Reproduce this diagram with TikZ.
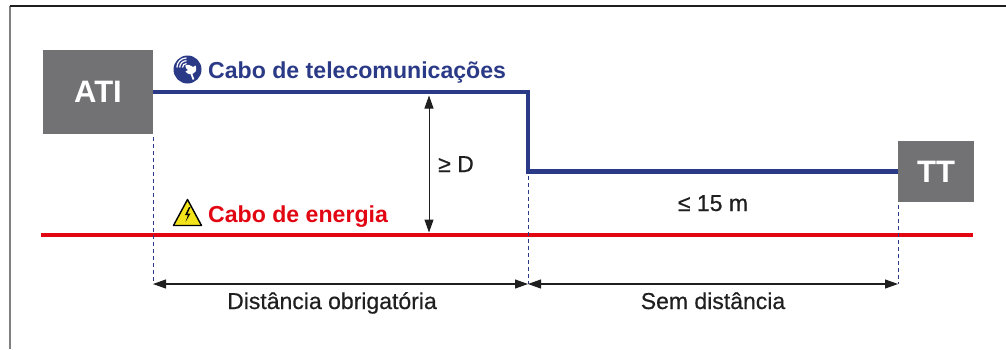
\documentclass[tikz,border=0pt]{standalone}
\usepackage{fontspec}
\setmainfont{Liberation Sans}
\newfontfamily\medfont[FakeBold=0.5]{Liberation Sans}
\usetikzlibrary{arrows.meta}

\definecolor{boxgray}{HTML}{727174}
\definecolor{telblue}{HTML}{2B3A87}
\definecolor{powred}{HTML}{E20613}
\definecolor{inkdark}{HTML}{1F1F1F}
\definecolor{warnyellow}{HTML}{F3E31B}

\tikzset{
  unitbox/.style={fill=boxgray, text=white, inner sep=0pt,
    font=\fontsize{31}{31}\selectfont\bfseries},
  telecom/.style={telblue, line width=4.5pt},
  power/.style={powred, line width=4.5pt},
  guide/.style={telblue, line width=0.9pt, dash pattern=on 4pt off 3pt},
  dim/.style={inkdark, line width=1.1pt, {Triangle[length=13pt,width=9pt]}-{Triangle[length=13pt,width=9pt]}},
  dimlabel/.style={inkdark, inner sep=0pt, anchor=base, font=\medfont\fontsize{23}{23}\selectfont},
  cablelabel/.style={inner sep=0pt, anchor=base west, font=\fontsize{23.1}{23.1}\selectfont\bfseries}
}

\begin{document}
\begin{tikzpicture}[x=1pt, y=-1pt]
\useasboundingbox (0,0) rectangle (1006,349);
% frame
\draw[gray, line width=1.2pt] (10,349) -- (10,6);
\draw[inkdark, line width=1.2pt] (10,6) -- (1006,6);

% end units
\node[unitbox, minimum width=110pt, minimum height=84pt] (ati) at (98,92) {ATI};
\node[unitbox, minimum width=76pt, minimum height=61pt] (tt) at (936,171.5) {TT};

% cables
\coordinate (drop) at (528,171.5);
\draw[telecom] (ati.east) -| (drop) -- (tt.west);
\coordinate (pwrL) at (41,235);
\coordinate (pwrR) at (973,235);
\draw[power] (pwrL) -- (pwrR);

% guide lines and dimensions
\coordinate (dimA) at (153,284);
\coordinate (dimB) at (528,284);
\coordinate (dimC) at (898,284);
\draw[guide] (153,137) -- (dimA);
\draw[guide] (528,176) -- (dimB);
\draw[guide] (898,205) -- (dimC);
\draw[dim] (dimA) -- (dimB);
\draw[dim] (dimB) -- (dimC);
\node[dimlabel] (obrig) at (332,309) {Distância obrigatória};
\node[dimlabel] (semdist) at (713,309) {Sem distância};

\coordinate (gapT) at (429,95.5);
\coordinate (gapB) at (429,232.5);
\draw[dim, line width=1pt] (gapT) -- (gapB);
\node[dimlabel, anchor=base west] (geD) at (438,172) {≥ D};
\node[dimlabel] (le15) at (713,211) {≤ 15 m};

% cable labels
\node[cablelabel, telblue] (tellbl) at (208,78) {Cabo de telecomunicações};
\node[cablelabel, powred] (powlbl) at (208,222) {Cabo de energia};

% telecom icon
\begin{scope}[shift={(187.5,69.5)}]
  \fill[telblue] (0,0) circle (14);
  \fill[white] (-2,2) -- (8,-4) arc (-30:150:5.8) -- cycle;
  \fill[white, rotate around={-30:(3,-1)}] (3,-1) ellipse (6 and 2.6);
  \draw[white, line width=1.8pt] (3,2) -- (6,10);
  \foreach \r in {4,6.8,9.6}
    \draw[white, line width=1.2pt] (-1,-2) ++(180:\r) arc (180:270:\r);
\end{scope}

% warning icon
\draw[black, line width=1.4pt, fill=warnyellow, line join=round]
  (173.5,225.5) -- (201.5,225.5) -- (187.5,199.5) -- cycle;
\fill[black] (189,207) -- (185,215) -- (188,215) -- (185.5,222) -- (190.5,213.5) -- (187.5,213.5) -- (190.5,207) -- cycle;
\end{tikzpicture}
\end{document}
